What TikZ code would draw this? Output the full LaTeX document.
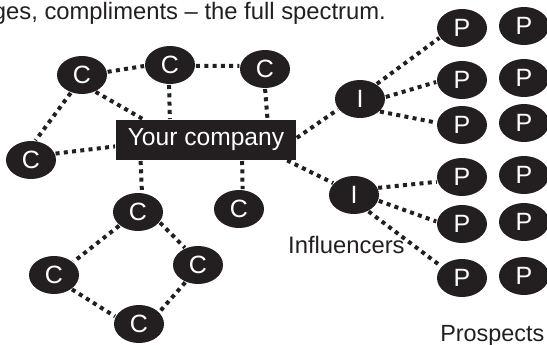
\documentclass[tikz,border=0pt]{standalone}
\usepackage{fontspec}
\setmainfont{Liberation Sans}
\usetikzlibrary{shapes.geometric}
\definecolor{ink}{HTML}{231F20}
\tikzset{
  x=1pt,y=-1pt,
  disc/.style={ellipse,fill=ink,text=white,minimum width=50pt,minimum height=38pt,inner sep=0pt,outer sep=0pt,font=\fontsize{25}{28}\selectfont},
  firm/.style={rectangle,fill=ink,text=white,minimum width=180pt,minimum height=40pt,inner sep=0pt,outer sep=0pt,font=\fontsize{24.6}{28}\selectfont},
  caption/.style={text=ink,inner sep=0pt,font=\fontsize{23.8}{28}\selectfont},
  link/.style={draw=ink,line width=4pt,dash pattern=on 4pt off 4.3pt,shorten >=1pt,shorten <=1pt},
}
\begin{document}
\begin{tikzpicture}
\useasboundingbox (0,0) rectangle (547,345);
\node[caption,anchor=base east] (head) at (386,20) {ges, compliments – the full spectrum.};
\node[caption,anchor=base west] (inf) at (288,253) {Influencers};
\node[caption,anchor=base east,font=\fontsize{23.4}{28}\selectfont] (pro) at (544.5,341) {Prospects};
\node[firm] (co) at (206,140) {Your company};
\node[disc] (c1) at (82,75) {C};
\node[disc] (c2) at (170,65) {C};
\node[disc] (c3) at (265,69) {C};
\node[disc] (c4) at (31,160) {C};
\node[disc] (c5) at (138,212) {C};
\node[disc] (c6) at (239,209) {C};
\node[disc] (c7) at (54,275) {C};
\node[disc] (c8) at (198,265) {C};
\node[disc] (c9) at (139,324) {C};
\node[disc] (i1) at (360,99) {I};
\node[disc] (i2) at (354,195) {I};
\node[disc] (p1) at (462,28) {P};
\node[disc] (p2) at (462,80) {P};
\node[disc] (p3) at (462,125) {P};
\node[disc] (p4) at (462,177) {P};
\node[disc] (p5) at (462,224) {P};
\node[disc] (p6) at (462,278) {P};
\node[disc] (q1) at (524,26) {P};
\node[disc] (q2) at (524,78) {P};
\node[disc] (q3) at (524,123) {P};
\node[disc] (q4) at (524,175) {P};
\node[disc] (q5) at (524,222) {P};
\node[disc] (q6) at (524,276) {P};
\path[link] (c1.7.6) -- (c2.182.3);
\path[link] (c2.-2.2) -- (c3.173.2);
\path[link] (c1.238.2) -- (c4.78.7);
\path[link] (c1.308.3) -- (co.162.6);
\path[link] (c2.267) -- (co.151.6);
\path[link] (c3.270) -- (co.18.7);
\path[link] (c4.15.1) -- (co.184.4);
\path[link] (co.197.4) -- (c5.78.1);
\path[link] (co.331.6) -- (c6.79.7);
\path[link] (co.1.9) -- (i1.205.6);
\path[link] (co.346.6) -- (i2.150.3);
\path[link] (i1.42.3) -- (p1.203.7);
\path[link] (i1.4.6) -- (p2.184.1);
\path[link] (i1.327.5) -- (p3.175.9);
\path[link] (i2.17.7) -- (p4.191.8);
\path[link] (i2.347.5) -- (p5.175.4);
\path[link] (i2.311.2) -- (p6.151.2);
\path[link] (c5.216) -- (c7.34.3);
\path[link] (c5.335.4) -- (c8.127.4);
\path[link] (c7.321) -- (c9.163.5);
\path[link] (c8.234.2) -- (c9.30.1);
\end{tikzpicture}
\end{document}
